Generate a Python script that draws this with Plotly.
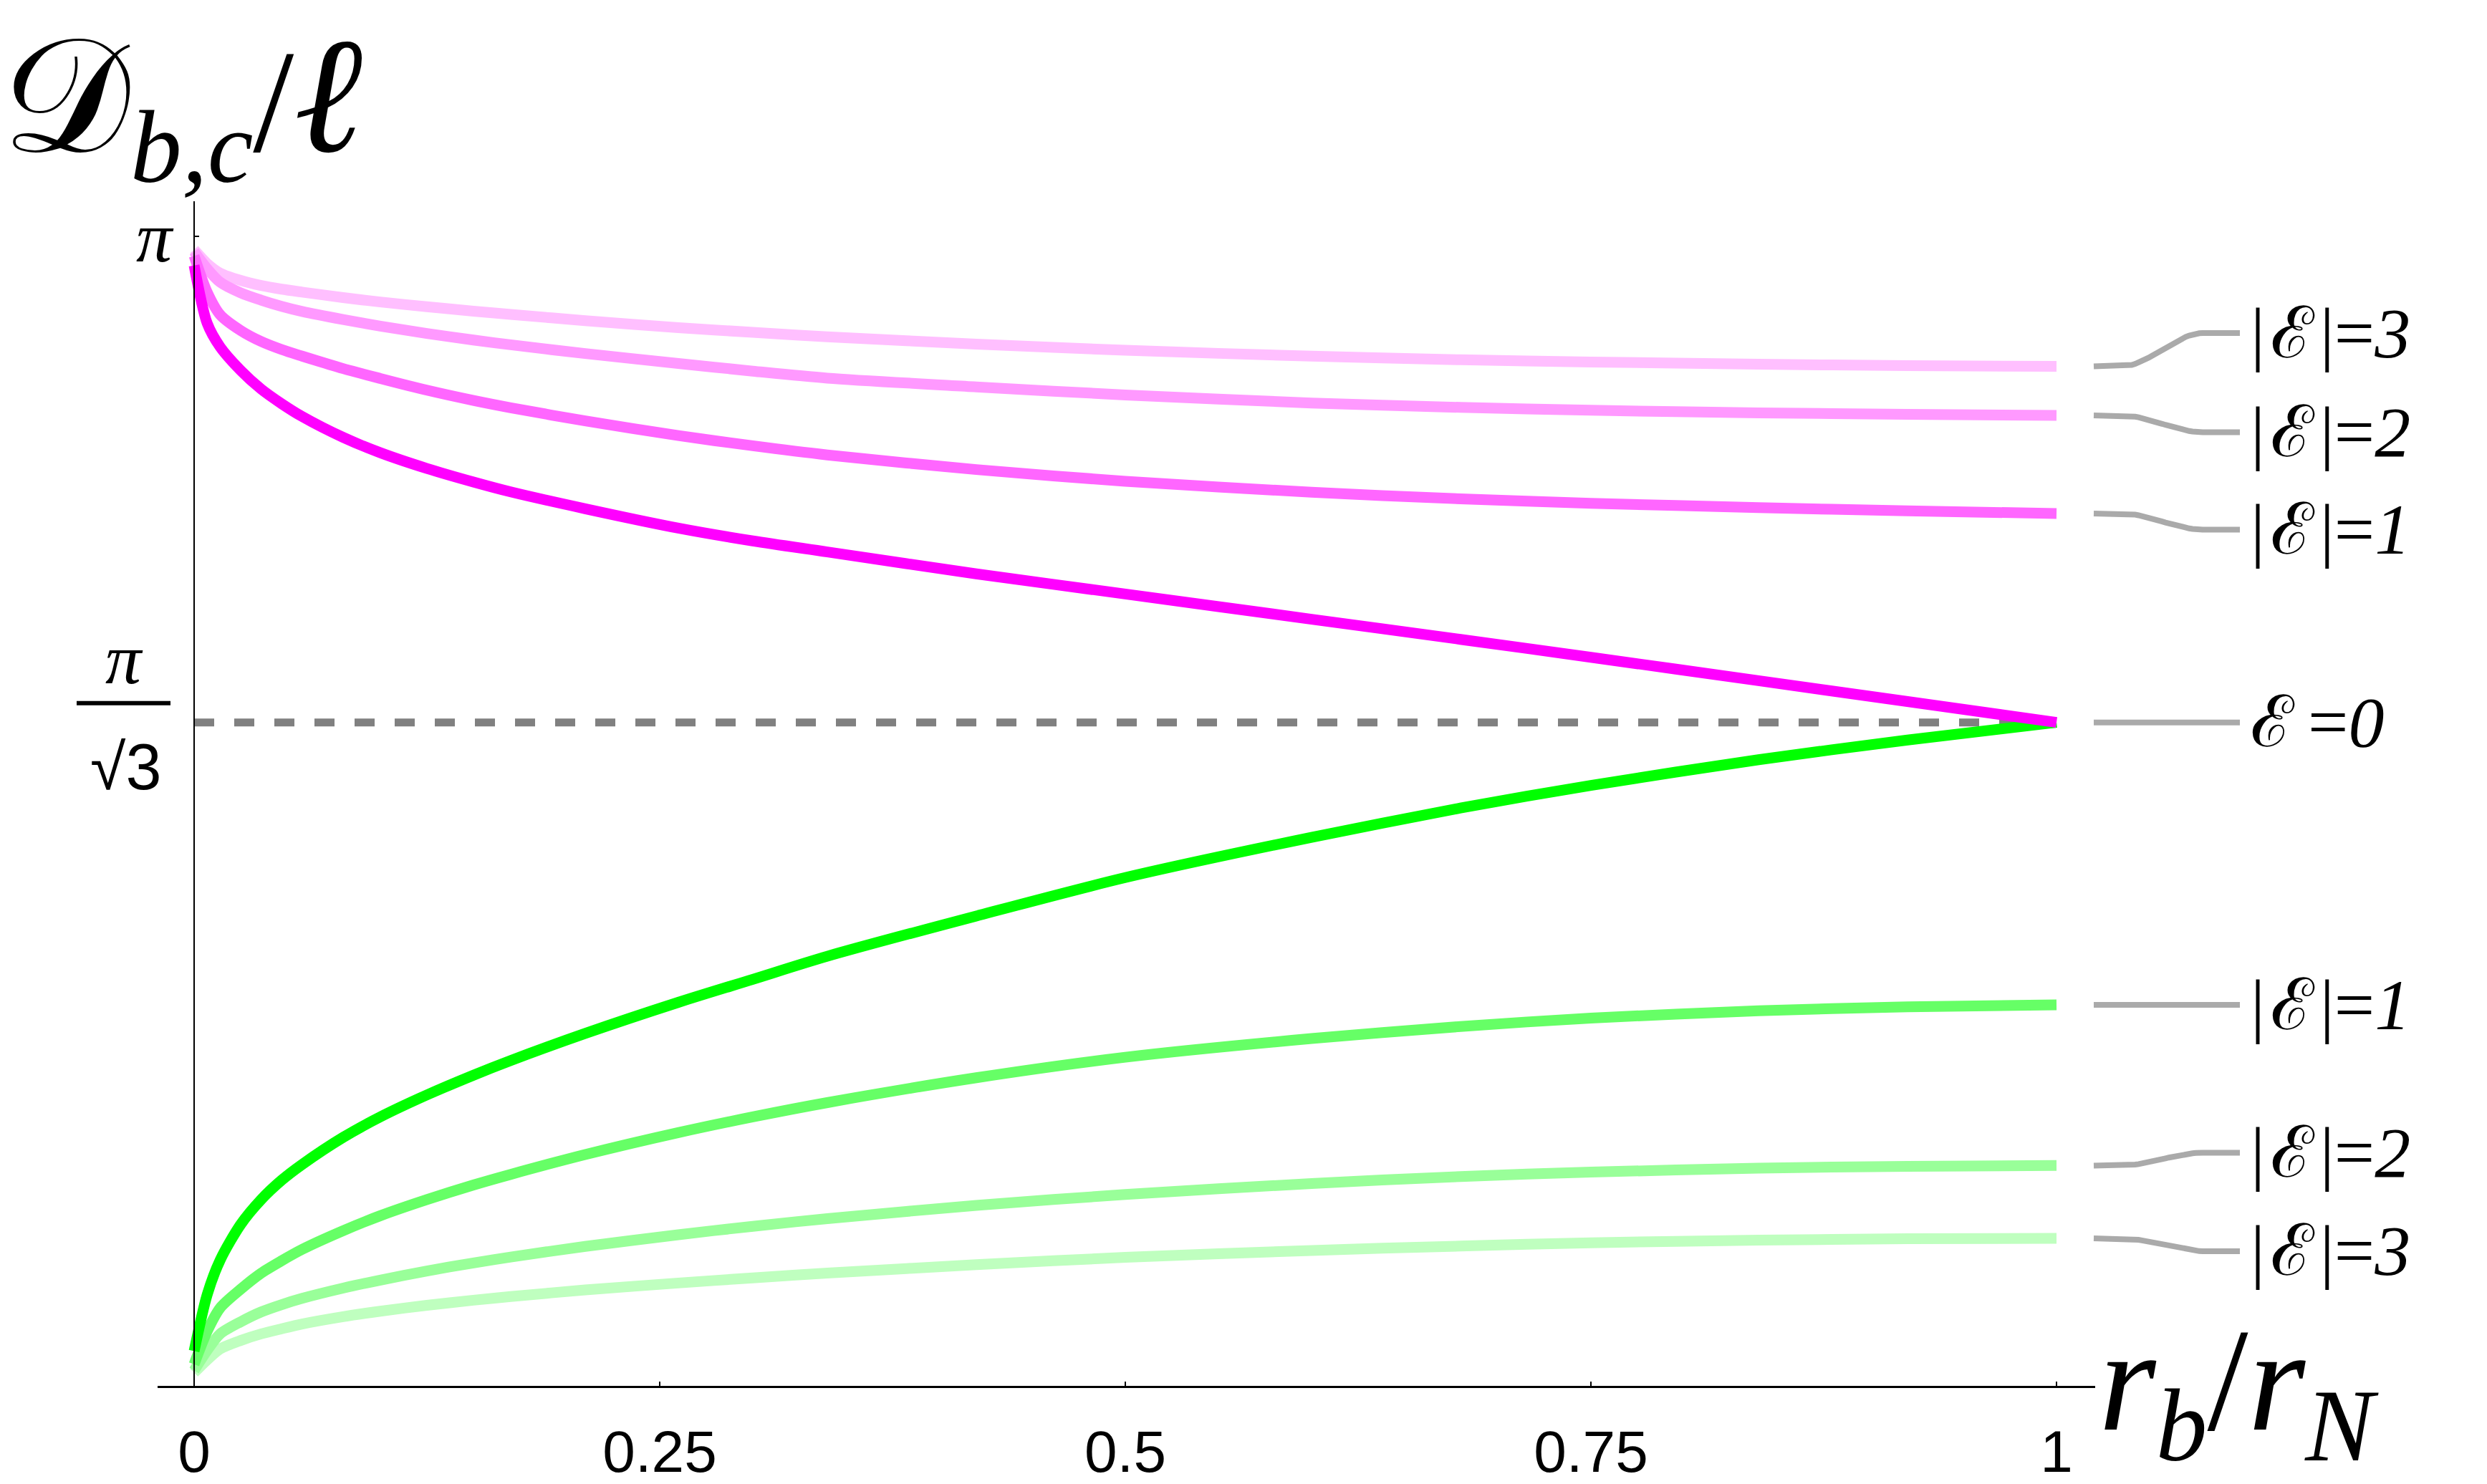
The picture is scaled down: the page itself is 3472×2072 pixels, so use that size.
import math
import plotly.graph_objects as go

# ---------------- data ----------------
r_ratio = [0, 0.007, 0.014, 0.025, 0.036, 0.047, 0.058, 0.08, 0.10, 0.125, 0.15, 0.17, 0.21,
           0.26, 0.30, 0.34, 0.42, 0.5, 0.6, 0.68, 0.75, 0.84, 0.92, 1.0]

mag_E0 = [3.063, 2.905, 2.840, 2.776, 2.725, 2.685, 2.650, 2.593, 2.551, 2.508, 2.471, 2.444, 2.398,
          2.345, 2.310, 2.280, 2.220, 2.165, 2.096, 2.041, 1.992, 1.928, 1.871, 1.814]
mag_E1 = [3.089, 2.990, 2.928, 2.885, 2.855, 2.833, 2.815, 2.781, 2.754, 2.722, 2.694, 2.674, 2.638,
          2.598, 2.570, 2.545, 2.505, 2.473, 2.443, 2.425, 2.413, 2.401, 2.392, 2.385]
mag_E2 = [3.101, 3.054, 3.017, 2.988, 2.968, 2.951, 2.937, 2.915, 2.897, 2.877, 2.859, 2.846, 2.822,
          2.795, 2.774, 2.755, 2.731, 2.709, 2.687, 2.675, 2.667, 2.660, 2.656, 2.653]
mag_E3 = [3.106, 3.068, 3.042, 3.022, 3.008, 2.998, 2.990, 2.975, 2.963, 2.950, 2.938, 2.929, 2.912,
          2.893, 2.880, 2.868, 2.848, 2.831, 2.815, 2.805, 2.799, 2.793, 2.789, 2.787]

grn_E0 = [0.096, 0.250, 0.345, 0.442, 0.510, 0.563, 0.606, 0.680, 0.736, 0.796, 0.850, 0.890, 0.964,
          1.049, 1.112, 1.175, 1.285, 1.390, 1.500, 1.580, 1.642, 1.712, 1.766, 1.814]
grn_E1 = [0.060, 0.150, 0.214, 0.265, 0.309, 0.343, 0.374, 0.425, 0.466, 0.510, 0.550, 0.579, 0.633,
          0.693, 0.736, 0.775, 0.843, 0.899, 0.950, 0.983, 1.006, 1.026, 1.037, 1.042]
grn_E2 = [0.043, 0.098, 0.143, 0.176, 0.203, 0.223, 0.240, 0.268, 0.290, 0.315, 0.337, 0.353, 0.382,
          0.414, 0.437, 0.458, 0.494, 0.524, 0.554, 0.573, 0.585, 0.596, 0.601, 0.603]
grn_E3 = [0.037, 0.072, 0.102, 0.125, 0.143, 0.157, 0.170, 0.190, 0.205, 0.221, 0.235, 0.245, 0.263,
          0.282, 0.296, 0.309, 0.332, 0.352, 0.371, 0.383, 0.392, 0.399, 0.403, 0.404]

PI = math.pi
PI_S3 = math.pi / math.sqrt(3)

x_ticks = [0, 0.25, 0.5, 0.75, 1]
x_tick_labels = ["0", "0.25", "0.5", "0.75", "1"]
y_ticks = [PI]
y_tick_labels = ["<i>π</i>"]

# label texts and their vertical positions (in y units)
HS = "\u200a"
mag_labels = [f"|{HS}ℰ{HS}|=<i>1</i>", f"|{HS}ℰ{HS}|=<i>2</i>", f"|{HS}ℰ{HS}|=<i>3</i>"]
mag_label_y = [2.341, 2.607, 2.878]
grn_labels = [f"|{HS}ℰ{HS}|=<i>1</i>", f"|{HS}ℰ{HS}|=<i>2</i>", f"|{HS}ℰ{HS}|=<i>3</i>"]
grn_label_y = [1.042, 0.638, 0.369]
zero_label = "ℰ\u2009=<i>0</i>"

# ---------------- styling ----------------
W, H = 3472, 2072
X0PX, XS = 271, 2600.0     # pixel of x=0, pixels per unit x
Y0PX, YS = 1956, 517.4     # pixel of y=0, pixels per unit y
AX_L, AX_R, AX_T = 220, 2925, 281

mag_colors = ["#FF00FF", "#FF66FF", "#FF99FF", "#FFBFFF"]
grn_colors = ["#00FF00", "#66FF66", "#99FF99", "#BFFFBF"]
LW = 15
SERIF = "Liberation Serif"
SANS = "Liberation Sans"

fig = go.Figure()

# dashed reference line
fig.add_trace(go.Scatter(x=[0, 1], y=[PI_S3, PI_S3], mode="lines",
                         line=dict(color="#808080", width=11, dash="28px,28px"),
                         hoverinfo="skip"))

mags = [mag_E0, mag_E1, mag_E2, mag_E3]
grns = [grn_E0, grn_E1, grn_E2, grn_E3]
for i in [3, 2, 1, 0]:
    fig.add_trace(go.Scatter(x=r_ratio, y=grns[i], mode="lines",
                             line=dict(color=grn_colors[i], width=LW, shape="spline", smoothing=0.8)))
    fig.add_trace(go.Scatter(x=r_ratio, y=mags[i], mode="lines",
                             line=dict(color=mag_colors[i], width=LW, shape="spline", smoothing=0.8)))

# connectors (on a full-page overlay axis pair with the same scale)
def px2x(p):
    return (p - X0PX) / XS

cx0, cx1, cx2, cx3 = px2x(2923), px2x(2962), px2x(3075), px2x(3127)
LABEL_X = px2x(3140)

def connector(y_start, y_end):
    xs, ys = [cx0], [y_start]
    n = 24
    for k in range(n + 1):
        t = k / n
        s = t * t * (3 - 2 * t)
        xs.append(cx1 + (cx2 - cx1) * t)
        ys.append(y_start + (y_end - y_start) * s)
    xs.append(cx3)
    ys.append(y_end)
    return xs, ys

ends = [(mag_E1[-1], mag_label_y[0]), (mag_E2[-1], mag_label_y[1]), (mag_E3[-1], mag_label_y[2]),
        (mag_E0[-1], PI_S3),
        (grn_E1[-1], grn_label_y[0]), (grn_E2[-1], grn_label_y[1]), (grn_E3[-1], grn_label_y[2])]
for ys0, ye in ends:
    xs, ys = connector(ys0, ye)
    fig.add_trace(go.Scatter(x=xs, y=ys, mode="lines", xaxis="x2", yaxis="y2",
                             line=dict(color="#AAAAAA", width=8), hoverinfo="skip"))

annotations = []
LABEL_FONT = dict(family=SERIF, size=100, color="black")
for txt, yv in list(zip(mag_labels, mag_label_y)) + list(zip(grn_labels, grn_label_y)) + [(zero_label, PI_S3)]:
    annotations.append(dict(x=LABEL_X, y=yv, xref="x2", yref="y2", text=txt,
                            showarrow=False, xanchor="left", yanchor="middle",
                            font=LABEL_FONT))

# fraction tick label pi/sqrt(3)
annotations.append(dict(x=173 / W, y=PI_S3, xref="paper", yref="y", yshift=88,
                        text="<i>π</i>", showarrow=False, xanchor="center", yanchor="middle",
                        font=dict(family=SERIF, size=100, color="black")))
annotations.append(dict(x=175 / W, y=PI_S3, xref="paper", yref="y", yshift=-62,
                        text="√3", showarrow=False,
                        xanchor="center", yanchor="middle",
                        font=dict(family=SANS, size=90, color="black")))

# axis titles
annotations.append(dict(x=0, y=1, xref="paper", yref="paper", yshift=0,
                        text="<span style='font-size:225px'>𝒟</span><sub><i>b,c</i></sub>/<i><span style='font-size:230px'>ℓ</span></i>",
                        showarrow=False, xanchor="left", yanchor="top",
                        font=dict(family=SERIF, size=205, color="black")))
annotations.append(dict(x=2928 / W, y=0, xref="paper", yref="paper", yshift=-22,
                        text="<i>r</i><sub><i>b</i></sub>/<i>r</i><sub><i>N</i></sub>", showarrow=False,
                        xanchor="left", yanchor="bottom",
                        font=dict(family=SERIF, size=205, color="black")))

shapes = [
    # fraction bar
    dict(type="line", xref="paper", yref="y", x0=107 / W, x1=238 / W,
         y0=27, y1=27, ysizemode="pixel", yanchor=PI_S3,
         line=dict(color="black", width=6)),
]

fig.update_layout(
    width=W, height=H, margin=dict(l=0, r=0, t=0, b=0),
    paper_bgcolor="white", plot_bgcolor="rgba(0,0,0,0)", showlegend=False,
    xaxis=dict(domain=[AX_L / W, AX_R / W], range=[px2x(AX_L), px2x(AX_R)],
               showline=True, linecolor="black", linewidth=3, ticks="inside", ticklen=6,
               tickwidth=2, tickcolor="black", tickvals=x_ticks, ticktext=x_tick_labels,
               tickfont=dict(family=SANS, size=82, color="black"), showgrid=False,
               zeroline=False, anchor="y", ticklabelstandoff=18),
    yaxis=dict(domain=[(H - Y0PX) / H, (H - AX_T) / H], range=[0, (Y0PX - AX_T) / YS],
               anchor="free", position=X0PX / W,
               showline=True, linecolor="black", linewidth=2, ticks="inside", ticklen=6,
               tickwidth=2, tickcolor="black", tickvals=y_ticks, ticktext=y_tick_labels,
               tickfont=dict(family=SERIF, size=100, color="black"), showgrid=False,
               zeroline=False, ticklabelstandoff=10),
    xaxis2=dict(domain=[0, 1], range=[px2x(0), px2x(W)], visible=False, anchor="y2"),
    yaxis2=dict(domain=[0, 1], range=[(Y0PX - H) / YS, Y0PX / YS], visible=False, anchor="x2"),
    annotations=annotations, shapes=shapes,
)

fig.write_html("out.html", config={"displayModeBar": False},
               post_script="document.body.style.margin='0';document.body.style.overflow='hidden';")
